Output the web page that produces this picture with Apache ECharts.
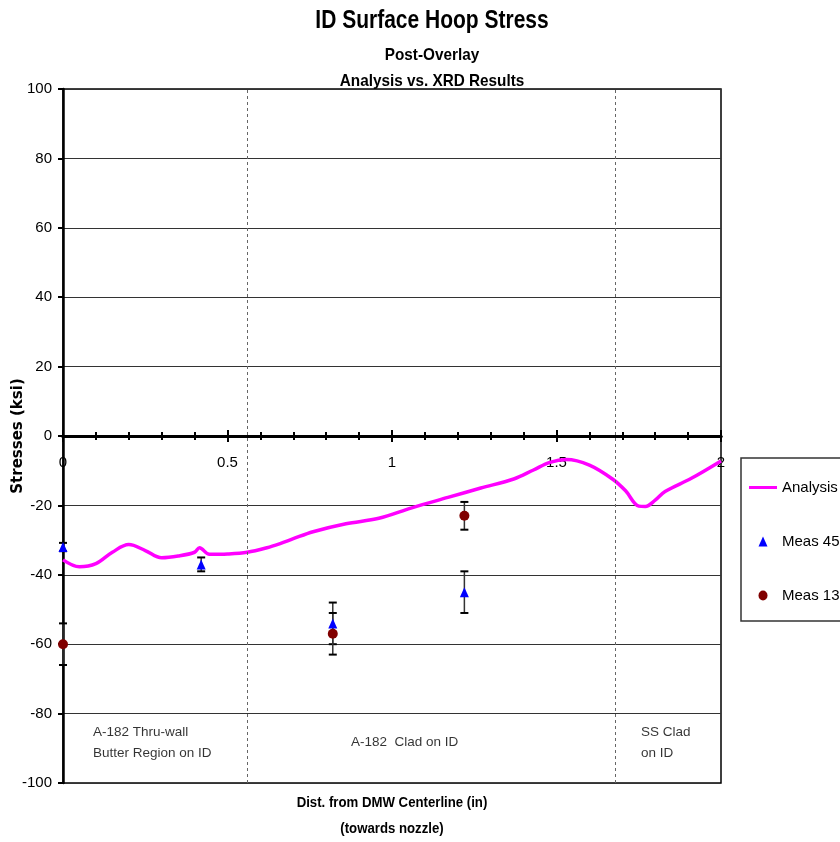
<!DOCTYPE html>
<html>
<head>
<meta charset="utf-8">
<title>ID Surface Hoop Stress</title>
<script src="https://cdn.jsdelivr.net/npm/echarts@6/dist/echarts.min.js"></script>
<style>
  html, body { margin: 0; padding: 0; background: #fff; }
  #chart { width: 840px; height: 842px; }
</style>
</head>
<body>
<div id="chart"></div>
<script>
// Analysis curve: distance from DMW centerline (in) vs. hoop stress (ksi)
const analysisX = [0.00, 0.05, 0.10, 0.15, 0.20, 0.25, 0.30, 0.35, 0.40, 0.415, 0.445, 0.50,
                   0.56, 0.62, 0.66, 0.70, 0.76, 0.86, 0.96, 1.06, 1.17, 1.27, 1.37, 1.43,
                   1.48, 1.53, 1.60, 1.67, 1.71, 1.75, 1.77, 1.80, 1.83, 1.91, 2.00];
const analysisY = [-35.7, -37.7, -36.8, -33.5, -31.3, -33.0, -35.1, -34.6, -33.5, -32.2, -34.1, -34.0,
                   -33.5, -32.2, -31.0, -29.6, -27.6, -25.3, -23.7, -20.7, -17.7, -15.0, -12.4, -9.8,
                   -7.6, -6.8, -8.4, -12.4, -15.8, -20.2, -20.3, -18.5, -16.0, -12.2, -7.2];

// XRD measurements (value and +/- error)
const meas45X   = [0, 0.42, 0.82, 1.22];
const meas45Y   = [-32, -37, -54, -45];
const meas45Err = [1.2, 2, 6, 6];

const meas135X   = [0, 0.82, 1.22];
const meas135Y   = [-60, -57, -23];
const meas135Err = [6, 6, 4];

// Material region boundaries and names
const regionBounds = [0.559, 1.675];
const regionNames  = ['A-182 Thru-wall\nButter Region on ID', 'A-182  Clad on ID', 'SS Clad\non ID'];
const regionNameX  = [0.091, 0.875, 1.757];

// Axis tick labels
const xTickLabels = ['0', '0.5', '1', '1.5', '2'];
const yTickLabels = ['-100', '-80', '-60', '-40', '-20', '0', '20', '40', '60', '80', '100'];

const SANS = '"Liberation Sans Narrow", "Arial Narrow", "Liberation Sans", Arial, sans-serif';
const REGION_LABEL_Y = -88.3;

// Plot frame
const CHART_H = 842;
const GRID = { left: 63, right: 119, top: 89, bottom: 59 };
const Y_MIN = -100, Y_MAX = 100;
// Shift that moves a top-positioned x axis down onto the y = 0 line
const ZERO_OFFSET = -((CHART_H - GRID.top - GRID.bottom) * Y_MAX / (Y_MAX - Y_MIN));

function fmtX(v) {
  const i = Math.round(v / 0.5);
  return Math.abs(v - i * 0.5) < 1e-6 ? (xTickLabels[i] || '') : '';
}
function fmtY(v) {
  const i = Math.round((v - Y_MIN) / 20);
  return yTickLabels[i] || '';
}

function errorBars(name, xs, ys, errs) {
  return {
    type: 'custom',
    name: name,
    silent: true,
    z: 3,
    data: xs.map((x, i) => [x, ys[i] - errs[i], ys[i] + errs[i]]),
    encode: { x: 0, y: [1, 2] },
    renderItem: function (params, api) {
      const x = api.value(0);
      const lo = api.coord([x, api.value(1)]);
      const hi = api.coord([x, api.value(2)]);
      const w = 4;
      return {
        type: 'group',
        children: [
          { type: 'line', shape: { x1: lo[0], y1: lo[1], x2: hi[0], y2: hi[1] },
            style: { stroke: '#333', lineWidth: 1.5 } },
          { type: 'line', shape: { x1: lo[0] - w, y1: lo[1], x2: lo[0] + w, y2: lo[1] },
            style: { stroke: '#000', lineWidth: 2 } },
          { type: 'line', shape: { x1: hi[0] - w, y1: hi[1], x2: hi[0] + w, y2: hi[1] },
            style: { stroke: '#000', lineWidth: 2 } }
        ]
      };
    }
  };
}

// Heading text, horizontally condensed like the original report font
function heading(text, cx, cy, size, squeeze) {
  return {
    type: 'text', x: cx, y: cy, scaleX: squeeze, silent: true, z: 10,
    style: {
      text: text, fill: '#000', align: 'center', verticalAlign: 'middle',
      font: 'bold ' + size + 'px "Liberation Sans", Arial, sans-serif'
    }
  };
}

// Both x axes sit on the zero line so the ticks cross it
const xAxisCommon = {
  type: 'value', min: 0, max: 2, interval: 0.5, gridIndex: 0,
  position: 'top',
  offset: ZERO_OFFSET,
  splitLine: { show: false },
  axisLine: { show: true, onZero: false, lineStyle: { color: '#000', width: 3 } }
};

const chart = echarts.init(document.getElementById('chart'), null, { renderer: 'canvas' });

chart.setOption({
  backgroundColor: '#fff',
  animation: false,
  graphic: [
    heading('ID Surface Hoop Stress', 432, 21, 25, 0.84),
    heading('Post-Overlay', 432, 55, 17, 0.9),
    heading('Analysis vs. XRD Results', 432, 81, 17, 0.9),
    heading('Dist. from DMW Centerline (in)', 392, 803, 15, 0.88),
    heading('(towards nozzle)', 392, 829, 15, 0.88)
  ],
  legend: {
    orient: 'vertical',
    left: 741, top: 458,
    padding: [22, 40, 18, 8],
    itemGap: 39,
    itemWidth: 28,
    itemHeight: 10,
    backgroundColor: '#fff',
    borderColor: '#333',
    borderWidth: 1.5,
    textStyle: { fontFamily: SANS, fontSize: 15, color: '#000' },
    data: [
      { name: 'Analysis',
        icon: 'path://M0,0L0,0M0,3.5L28,3.5L28,6.5L0,6.5ZM0,10L0,10' },
      { name: 'Meas 45',
        icon: 'path://M0,10L0,10M28,10L28,10M14,0L18.5,10L9.5,10Z' },
      { name: 'Meas 135',
        icon: 'path://M0,5L0,5M28,5L28,5M14,0A4.5,5 0 1,1 14,10A4.5,5 0 1,1 14,0Z' }
    ]
  },
  grid: {
    left: GRID.left, right: GRID.right, top: GRID.top, bottom: GRID.bottom,
    outerBoundsMode: 'none',
    containLabel: false,
    show: true, borderColor: '#000', borderWidth: 1.5, backgroundColor: 'transparent'
  },
  xAxis: [
    Object.assign({}, xAxisCommon, {
      axisTick: { show: true, inside: false, length: 6, lineStyle: { color: '#000', width: 2 } },
      minorTick: { show: true, splitNumber: 5, length: 4, lineStyle: { color: '#000', width: 2 } },
      axisLabel: { show: true, inside: true, margin: 19, fontFamily: SANS, fontSize: 15, color: '#000',
                   formatter: fmtX }
    }),
    Object.assign({}, xAxisCommon, {
      axisTick: { show: true, inside: true, length: 6, lineStyle: { color: '#000', width: 2 } },
      minorTick: { show: true, splitNumber: 5, length: 4, lineStyle: { color: '#000', width: 2 } },
      axisLabel: { show: false }
    })
  ],
  yAxis: {
    type: 'value', min: Y_MIN, max: Y_MAX, interval: 20,
    name: 'Stresses (ksi)',
    nameLocation: 'middle',
    nameGap: 37,
    nameMoveOverlap: false,
    nameRotate: 90,
    nameTextStyle: { fontFamily: '"DejaVu Sans", sans-serif', fontSize: 15, fontWeight: 'bold', color: '#000' },
    axisLine: { show: true, onZero: false, lineStyle: { color: '#000', width: 2.5 } },
    axisTick: { show: true, inside: false, length: 5, lineStyle: { color: '#000', width: 2 } },
    axisLabel: { margin: 11, fontFamily: SANS, fontSize: 15, color: '#000', formatter: fmtY },
    splitLine: { show: true, lineStyle: { color: '#333', width: 1 } }
  },
  series: [
    {
      name: 'Analysis',
      type: 'line',
      xAxisIndex: 0,
      data: analysisX.map((x, i) => [x, analysisY[i]]),
      smooth: 0.35,
      symbol: 'none',
      showSymbol: false,
      z: 4,
      lineStyle: { color: '#FF00FF', width: 3.5 },
      itemStyle: { color: '#FF00FF' },
      markLine: {
        silent: true,
        symbol: 'none',
        label: { show: false },
        lineStyle: { color: '#666', type: [3, 3], width: 1 },
        data: regionBounds.map(x => ({ xAxis: x }))
      }
    },
    errorBars('Meas 45 error', meas45X, meas45Y, meas45Err),
    errorBars('Meas 135 error', meas135X, meas135Y, meas135Err),
    {
      name: 'Meas 45',
      type: 'scatter',
      symbol: 'triangle',
      symbolSize: [9, 10],
      z: 5,
      itemStyle: { color: '#0000FF', opacity: 1 },
      data: meas45X.map((x, i) => [x, meas45Y[i]])
    },
    {
      name: 'Meas 135',
      type: 'scatter',
      symbol: 'circle',
      symbolSize: 10,
      z: 5,
      itemStyle: { color: '#800000', opacity: 1 },
      data: meas135X.map((x, i) => [x, meas135Y[i]])
    },
    {
      name: 'Regions',
      type: 'scatter',
      silent: true,
      symbolSize: 0,
      z: 2,
      label: {
        show: true, position: 'right', distance: 0,
        fontFamily: SANS, fontSize: 13.5, lineHeight: 21, color: '#000',
        formatter: p => regionNames[p.dataIndex]
      },
      data: regionNameX.map(x => [x, REGION_LABEL_Y])
    }
  ]
});
</script>
</body>
</html>
